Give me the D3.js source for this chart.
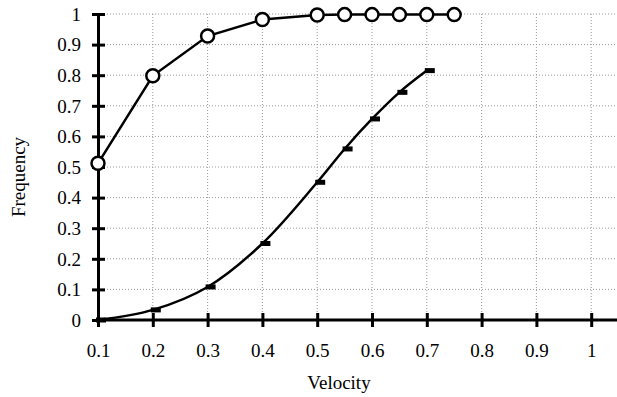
<!DOCTYPE html>
<html>
<head>
<meta charset="utf-8">
<script src="https://cdn.jsdelivr.net/npm/d3@7"></script>
<style>
  body { margin: 0; background: #fff; }
  svg text { font-family: "Liberation Serif", "Times New Roman", serif; fill: #000; }
</style>
</head>
<body>
<svg width="617" height="397"></svg>
<script>
// data
var velCircles = [0.1, 0.2, 0.3, 0.4, 0.5, 0.55, 0.6, 0.65, 0.7, 0.75];
var freqCircles = [0.512, 0.798, 0.928, 0.982, 0.997, 0.998, 0.998, 0.998, 0.998, 0.998];
var velSquares = [0.1, 0.2, 0.3, 0.4, 0.5, 0.55, 0.6, 0.65, 0.7];
var freqSquares = [0.0, 0.033, 0.108, 0.25, 0.45, 0.559, 0.657, 0.744, 0.815];
var xTicks = [0.1, 0.2, 0.3, 0.4, 0.5, 0.6, 0.7, 0.8, 0.9, 1];
var yTicks = [0, 0.1, 0.2, 0.3, 0.4, 0.5, 0.6, 0.7, 0.8, 0.9, 1];

var svg = d3.select('svg');

var x = d3.scaleLinear().domain([0.1, 1.05]).range([98, 618.6]);
var y = d3.scaleLinear().domain([0, 1]).range([320, 14]);

var fmt = function(d){ return d === 0 || d === 1 ? String(d) : d.toFixed(1); };
var serif = '"Liberation Serif", "Times New Roman", serif';

//dotted grid
svg.append('g').selectAll('line.v')
	.data(xTicks.slice(1))
	.enter().append('line')
	.attr('x1', function(d){ return x(d); })
	.attr('x2', function(d){ return x(d); })
	.attr('y1', y(1)).attr('y2', y(0))
	.attr('stroke', '#999').attr('stroke-width', 1)
	.attr('stroke-dasharray', '1,2');

svg.append('g').selectAll('line.h')
	.data(yTicks.slice(1))
	.enter().append('line')
	.attr('x1', x(0.1)).attr('x2', 617)
	.attr('y1', function(d){ return y(d); })
	.attr('y2', function(d){ return y(d); })
	.attr('stroke', '#999').attr('stroke-width', 1)
	.attr('stroke-dasharray', '1,2');

//axes: ticks crossing the axis line
var xAxis = d3.axisBottom(x).tickValues(xTicks).tickFormat(fmt)
	.tickSizeInner(7).tickSizeOuter(0);
var gx = svg.append('g').attr('transform', 'translate(0,' + y(0) + ')').call(xAxis);
gx.attr('font-family', serif).attr('font-size', 19);
gx.select('.domain').attr('stroke-width', 3).attr('d', 'M' + x(0.1) + ',0H617');
gx.selectAll('.tick line').attr('y1', -7).attr('stroke-width', 3);
gx.selectAll('.tick text').attr('y', 37).attr('dy', 0);

var yAxis = d3.axisLeft(y).tickValues(yTicks).tickFormat(fmt)
	.tickSizeInner(6).tickSizeOuter(0);
var gy = svg.append('g').attr('transform', 'translate(' + x(0.1) + ',0)').call(yAxis);
gy.attr('font-family', serif).attr('font-size', 19);
gy.select('.domain').attr('stroke-width', 3);
gy.selectAll('.tick line').attr('x2', 7).attr('x1', -6).attr('stroke-width', 3);
gy.selectAll('.tick text').attr('x', -17).attr('dy', '0.33em');

//lines
var curved = d3.line()
	.x(function(d){ return x(d.v); })
	.y(function(d){ return y(d.f); })
	.curve(d3.curveCatmullRom);
var straight = d3.line()
	.x(function(d){ return x(d.v); })
	.y(function(d){ return y(d.f); });

var circ = velCircles.map(function(v, i){ return {v: v, f: freqCircles[i]}; });
var sq = velSquares.map(function(v, i){ return {v: v, f: freqSquares[i]}; });

svg.append('path').datum(sq).attr('d', curved)
	.attr('fill', 'none').attr('stroke', '#000').attr('stroke-width', 2.5);
svg.append('path').datum(circ).attr('d', straight)
	.attr('fill', 'none').attr('stroke', '#000').attr('stroke-width', 2.5);

svg.append('g').selectAll('rect')
	.data(sq)
	.enter().append('rect')
	.attr('x', function(d){ return x(d.v) - 2; })
	.attr('y', function(d){ return y(d.f) - 2.5; })
	.attr('width', 10).attr('height', 5)
	.attr('fill', '#000');

svg.append('g').selectAll('circle')
	.data(circ)
	.enter().append('circle')
	.attr('cx', function(d){ return x(d.v); })
	.attr('cy', function(d){ return y(d.f); })
	.attr('r', 6.5)
	.attr('fill', '#fff').attr('stroke', '#000').attr('stroke-width', 2.5);

//axis titles
svg.append('text').attr('x', 339).attr('y', 389)
	.attr('text-anchor', 'middle').attr('font-size', 19).text('Velocity');
svg.append('text').attr('transform', 'translate(25,177) rotate(-90)')
	.attr('text-anchor', 'middle').attr('font-size', 19).text('Frequency');
</script>
</body>
</html>
